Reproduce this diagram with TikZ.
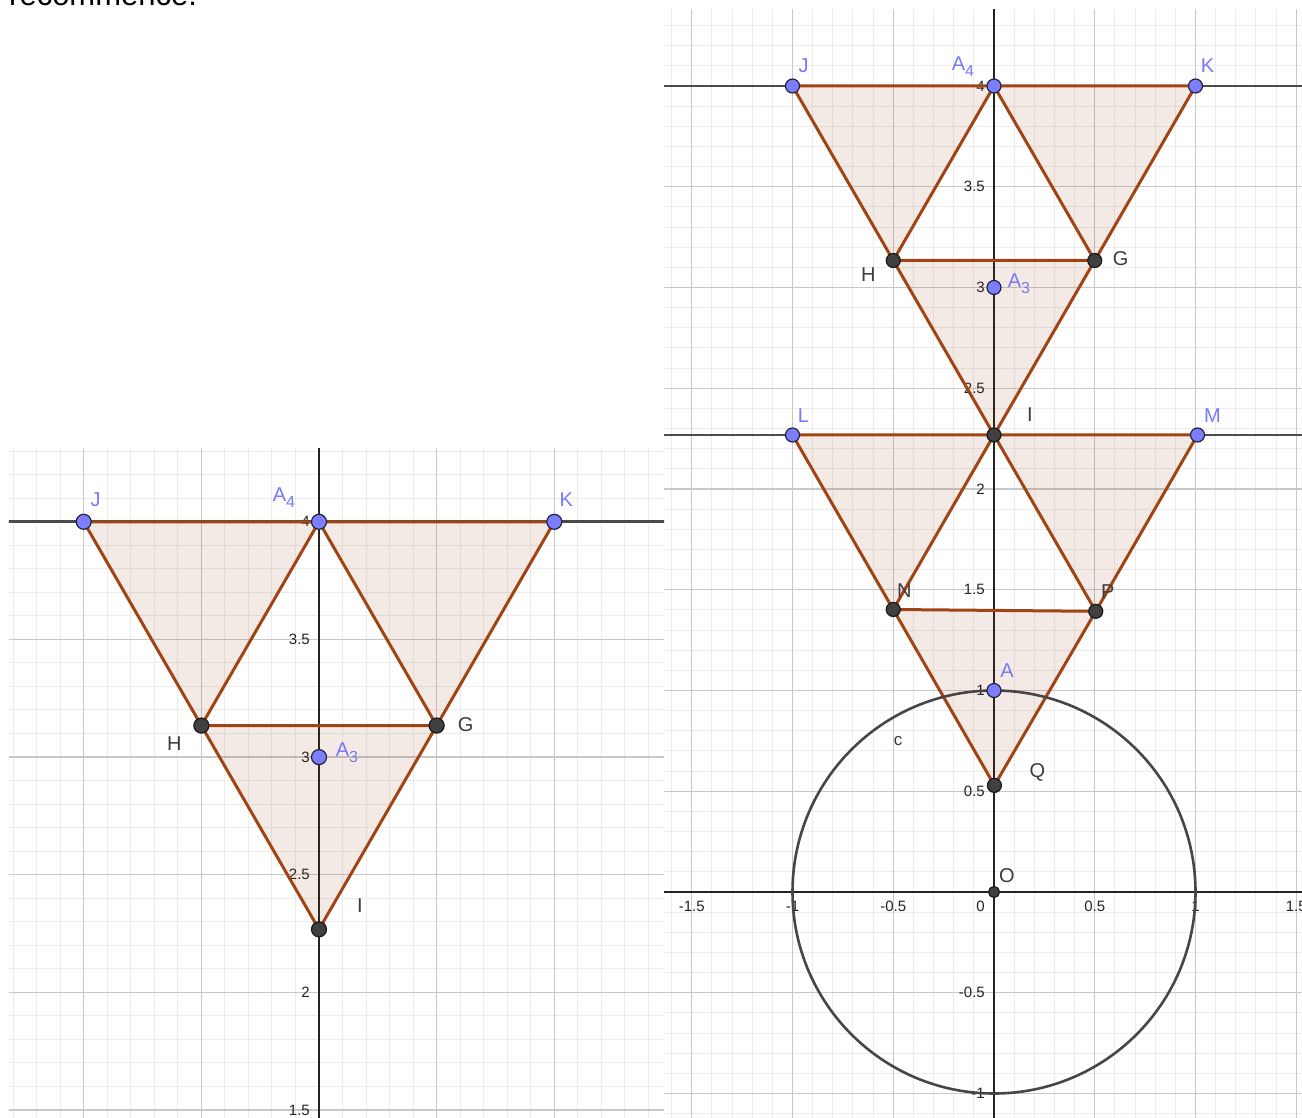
\documentclass[tikz,border=0pt]{standalone}
\usepackage{fontspec}
\setmainfont{Liberation Sans}
\definecolor{brownedge}{RGB}{160,68,20}
\definecolor{brownbase}{RGB}{153,51,0}
\definecolor{ptblue}{RGB}{125,125,255}
\definecolor{ptblueline}{RGB}{35,35,60}
\definecolor{lblblue}{RGB}{120,120,250}
\definecolor{ptdark}{RGB}{64,64,64}
\definecolor{ptdarkline}{RGB}{25,25,25}
\definecolor{lbldark}{RGB}{60,60,60}
\definecolor{gridminor}{RGB}{236,236,236}
\definecolor{gridmajor}{RGB}{200,200,200}
\definecolor{axiscol}{RGB}{35,35,35}
\definecolor{hlinecol}{RGB}{75,75,75}
\definecolor{circcol}{RGB}{70,70,70}
\tikzset{
  minorgrid/.style={gridminor, line width=1pt},
  majorgrid/.style={gridmajor, line width=1.3pt},
  axisline/.style={axiscol, line width=1.2pt},
  hline/.style={hlinecol, line width=2.8pt},
  triedge/.style={brownedge, line width=3pt, line join=round, line cap=round},
  trifill/.style={fill=brownbase, fill opacity=0.1},
  circline/.style={circcol, line width=2.6pt},
  bluept/.style={circle, fill=ptblue, draw=ptblueline, line width=1.2pt, inner sep=0pt, minimum size=14pt},
  darkpt/.style={circle, fill=ptdark, draw=ptdarkline, line width=1.2pt, inner sep=0pt, minimum size=14pt},
  lblb/.style={text=lblblue, font=\fontsize{20}{20}\selectfont, inner sep=0pt},
  lbld/.style={text=lbldark, font=\fontsize{20}{20}\selectfont, inner sep=0pt},
  ticklbl/.style={text=axiscol, font=\fontsize{15}{15}\selectfont, inner sep=0pt},
}
\newcommand{\subA}[1]{A\raisebox{-6pt}{\fontsize{16}{16}\selectfont #1}}
\begin{document}
\begin{tikzpicture}[x=1pt,y=-1pt]
\useasboundingbox (0,0) rectangle (1302,1118);
\clip (0,0) rectangle (1302,1118);
\fill[white] (0,0) rectangle (1302,1118);
\node[anchor=base west, inner sep=0pt, font=\fontsize{31}{31}\selectfont] (rec) at (9,6) {recommence.};

% ---------------- left panel ----------------
\begin{scope}[shift={(319,1463)}, x=235.3pt, y=235.3pt]
  \clip (-1.3175,1.4662) rectangle (1.4662,4.3136);
  \draw[minorgrid, step=0.1] (-1.4,1.4) grid (1.5,4.4);
  \draw[majorgrid, step=0.5] (-1.4,1.4) grid (1.5,4.4);
  \draw[axisline] (0,1.4) -- (0,4.4);
  \foreach \v/\t [count=\k] in {4/4,3.5/3.5,3/3,2.5/2.5,2/2,1.5/1.5}
    \node[ticklbl, anchor=east] (ly\k) at ([xshift=-9pt]0,\v) {\t};
  \draw[hline] (-1.4,4) -- (1.5,4);
  \coordinate (lJ) at (-1,4);
  \coordinate (lA4) at (0,4);
  \coordinate (lK) at (1,4);
  \coordinate (lH) at (-0.5,3.134);
  \coordinate (lG) at (0.5,3.134);
  \coordinate (lA3) at (0,3);
  \coordinate (lI) at (0,2.268);
  \fill[trifill] (lJ) -- (lA4) -- (lH) -- cycle;
  \fill[trifill] (lA4) -- (lK) -- (lG) -- cycle;
  \fill[trifill] (lH) -- (lG) -- (lI) -- cycle;
  \draw[triedge] (lJ) -- (lA4) -- (lH) -- cycle;
  \draw[triedge] (lA4) -- (lK) -- (lG) -- cycle;
  \draw[triedge] (lH) -- (lG) -- (lI) -- cycle;
  \node[bluept, minimum size=15pt] (lJpt) at (lJ) {};
  \node[bluept, minimum size=15pt] (lA4pt) at (lA4) {};
  \node[bluept, minimum size=15pt] (lKpt) at (lK) {};
  \node[darkpt, minimum size=15pt] (lHpt) at (lH) {};
  \node[darkpt, minimum size=15pt] (lGpt) at (lG) {};
  \node[bluept, minimum size=15pt] (lA3pt) at (lA3) {};
  \node[darkpt, minimum size=15pt] (lIpt) at (lI) {};
  \node[lblb] (lJl) at ([shift={(12pt,22pt)}]lJ) {J};
  \node[lblb] (lA4l) at ([shift={(-35pt,24pt)}]lA4) {\subA{4}};
  \node[lblb] (lKl) at ([shift={(12pt,22pt)}]lK) {K};
  \node[lbld] (lHl) at ([shift={(-27pt,-18pt)}]lH) {H};
  \node[lbld] (lGl) at ([shift={(29pt,1pt)}]lG) {G};
  \node[lblb] (lA3l) at ([shift={(28pt,4pt)}]lA3) {\subA{3}};
  \node[lbld] (lIl) at ([shift={(41pt,24pt)}]lI) {I};
\end{scope}

% ---------------- right panel ----------------
\begin{scope}[shift={(994,892)}, x=201.5pt, y=201.5pt]
  \clip (-1.6377,-1.1216) rectangle (1.6,4.3772);
  \draw[minorgrid, step=0.1] (-1.7,-1.2) grid (1.6,4.4);
  \draw[majorgrid, step=0.5] (-1.7,-1.2) grid (1.6,4.4);
  \draw[axisline] (-1.7,0) -- (1.6,0);
  \draw[axisline] (0,-1.2) -- (0,4.4);
  \foreach \v/\t [count=\k] in {4/4,3.5/3.5,3/3,2.5/2.5,2/2,1.5/1.5,1/1,0.5/0.5,-0.5/-0.5,-1/-1}
    \node[ticklbl, anchor=east] (ry\k) at ([xshift=-9pt]0,\v) {\t};
  \foreach \v/\t [count=\k] in {-1.5/-1.5,-1/-1,-0.5/-0.5,0.5/0.5,1/1,1.5/1.5}
    \node[ticklbl, anchor=north] (rx\k) at ([yshift=-9pt]\v,0) {\t};
  \node[ticklbl, anchor=north east] (rx0) at ([shift={(-9pt,-9pt)}]0,0) {0};
  \draw[hline] (-1.7,4) -- (1.6,4);
  \draw[hline] (-1.7,2.268) -- (1.6,2.268);
  \coordinate (rJ) at (-1,4);
  \coordinate (rA4) at (0,4);
  \coordinate (rK) at (1,4);
  \coordinate (rH) at (-0.5,3.134);
  \coordinate (rG) at (0.5,3.134);
  \coordinate (rA3) at (0,3);
  \coordinate (rI) at (0,2.268);
  \coordinate (rL) at (-1,2.268);
  \coordinate (rM) at (1.01,2.268);
  \coordinate (rN) at (-0.5,1.402);
  \coordinate (rP) at (0.505,1.393);
  \coordinate (rQ) at (0.002,0.529);
  \coordinate (rA) at (0,1);
  \coordinate (rO) at (0,0);
  \fill[trifill] (rJ) -- (rA4) -- (rH) -- cycle;
  \fill[trifill] (rA4) -- (rK) -- (rG) -- cycle;
  \fill[trifill] (rH) -- (rG) -- (rI) -- cycle;
  \fill[trifill] (rL) -- (rI) -- (rN) -- cycle;
  \fill[trifill] (rI) -- (rM) -- (rP) -- cycle;
  \fill[trifill] (rN) -- (rP) -- (rQ) -- cycle;
  \draw[triedge] (rJ) -- (rA4) -- (rH) -- cycle;
  \draw[triedge] (rA4) -- (rK) -- (rG) -- cycle;
  \draw[triedge] (rH) -- (rG) -- (rI) -- cycle;
  \draw[triedge] (rL) -- (rI) -- (rN) -- cycle;
  \draw[triedge] (rI) -- (rM) -- (rP) -- cycle;
  \draw[triedge] (rN) -- (rP) -- (rQ) -- cycle;
  \draw[circline] (rO) circle[radius=1];
  \node[bluept] (rJpt) at (rJ) {};
  \node[bluept] (rA4pt) at (rA4) {};
  \node[bluept] (rKpt) at (rK) {};
  \node[darkpt] (rHpt) at (rH) {};
  \node[darkpt] (rGpt) at (rG) {};
  \node[bluept] (rA3pt) at (rA3) {};
  \node[darkpt] (rIpt) at (rI) {};
  \node[bluept] (rLpt) at (rL) {};
  \node[bluept] (rMpt) at (rM) {};
  \node[darkpt] (rNpt) at (rN) {};
  \node[darkpt] (rPpt) at (rP) {};
  \node[darkpt] (rQpt) at (rQ) {};
  \node[bluept] (rApt) at (rA) {};
  \node[darkpt, minimum size=11pt] (rOpt) at (rO) {};
  \node[lblb] (rJl) at ([shift={(11pt,20pt)}]rJ) {J};
  \node[lblb] (rA4l) at ([shift={(-31pt,19pt)}]rA4) {\subA{4}};
  \node[lblb] (rKl) at ([shift={(12pt,20pt)}]rK) {K};
  \node[lbld] (rHl) at ([shift={(-25pt,-14pt)}]rH) {H};
  \node[lbld] (rGl) at ([shift={(26pt,2pt)}]rG) {G};
  \node[lblb] (rA3l) at ([shift={(25pt,4pt)}]rA3) {\subA{3}};
  \node[lbld] (rIl) at ([shift={(36pt,20pt)}]rI) {I};
  \node[lblb] (rLl) at ([shift={(11pt,19pt)}]rL) {L};
  \node[lblb] (rMl) at ([shift={(15pt,19pt)}]rM) {M};
  \node[lbld] (rNl) at ([shift={(11pt,19pt)}]rN) {N};
  \node[lbld] (rPl) at ([shift={(12pt,20pt)}]rP) {P};
  \node[lblb] (rAl) at ([shift={(13pt,20pt)}]rA) {A};
  \node[lbld] (rQl) at ([shift={(43pt,13pt)}]rQ) {Q};
  \node[lbld] (rOl) at ([shift={(13pt,16pt)}]rO) {O};
  \node[lbld, font=\fontsize{17}{17}\selectfont] (rcl) at (-0.476,0.749) {c};
\end{scope}
\end{tikzpicture}
\end{document}
